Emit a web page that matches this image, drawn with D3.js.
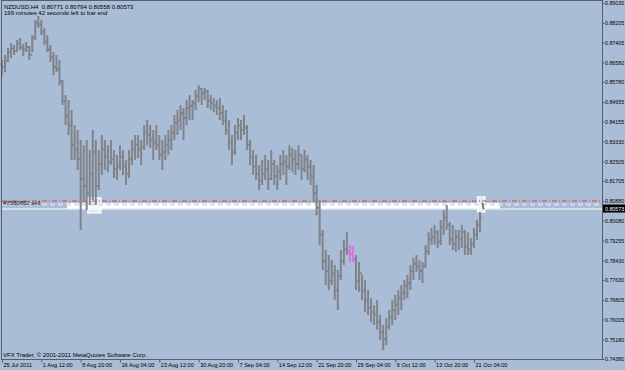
<!DOCTYPE html>
<html>
<head>
<meta charset="utf-8">
<script src="https://cdn.jsdelivr.net/npm/d3@7"></script>
<style>
  html, body { margin: 0; padding: 0; background: #aabdd6; }
  svg { display: block; }
  text { font-family: "Liberation Sans", Arial, sans-serif; }
</style>
</head>
<body>
<div id="chart"></div>
<script>
// NZDUSD H4, one entry per ~10 hours
let highs = [
  .8668,.8689,.8718,.8738,.8730,.8751,.8759,.8734,.8743,.8726,
  .8771,.8833,.8849,.8833,.8800,.8771,.8730,.8701,.8689,.8668,
  .8586,.8524,.8504,.8463,.8401,.8380,.8339,.8318,.8339,.8298,
  .8380,.8339,.8298,.8360,.8339,.8318,.8339,.8298,.8277,.8318,
  .8298,.8257,.8298,.8339,.8360,.8360,.8339,.8401,.8422,.8401,
  .8380,.8401,.8360,.8339,.8360,.8380,.8401,.8442,.8463,.8483,
  .8471,.8504,.8524,.8504,.8545,.8565,.8553,.8553,.8545,.8524,
  .8512,.8504,.8512,.8483,.8463,.8422,.8360,.8401,.8430,.8422,
  .8442,.8401,.8339,.8298,.8277,.8236,.8257,.8277,.8257,.8298,
  .8257,.8236,.8277,.8298,.8277,.8318,.8306,.8298,.8318,.8277,
  .8298,.8277,.8257,.8236,.8154,.8092,.7969,.7887,.7866,.7845,
  .7825,.7804,.7887,.7928,.7960,.7907,.7903,.7866,.7837,.7784,
  .7763,.7722,.7689,.7660,.7681,.7619,.7578,.7606,.7640,.7681,
  .7701,.7722,.7743,.7763,.7784,.7825,.7854,.7866,.7845,.7837,
  .7907,.7960,.7977,.7989,.7969,.8010,.8051,.8072,.8001,.7989,
  .7969,.7969,.7989,.7969,.7960,.7936,.7977,.8010,.8043,.80794
];
let lows = [
  .8606,.8619,.8660,.8677,.8689,.8701,.8710,.8685,.8701,.8668,
  .8701,.8751,.8800,.8771,.8730,.8701,.8660,.8606,.8619,.8565,
  .8483,.8401,.8360,.8257,.8257,.8216,.7969,.8092,.8051,.8072,
  .8092,.8072,.8133,.8195,.8216,.8207,.8236,.8183,.8175,.8216,
  .8195,.8154,.8183,.8236,.8257,.8265,.8236,.8298,.8318,.8306,
  .8257,.8298,.8257,.8216,.8257,.8277,.8298,.8339,.8360,.8380,
  .8339,.8401,.8422,.8422,.8463,.8495,.8483,.8504,.8471,.8463,
  .8454,.8442,.8422,.8401,.8360,.8298,.8236,.8277,.8339,.8339,
  .8360,.8298,.8236,.8195,.8175,.8133,.8154,.8175,.8133,.8175,
  .8154,.8133,.8175,.8195,.8154,.8216,.8207,.8195,.8216,.8175,
  .8207,.8175,.8154,.8092,.8030,.7907,.7804,.7743,.7722,.7743,
  .7681,.7640,.7763,.7825,.7866,.7837,.7837,.7722,.7714,.7681,
  .7631,.7619,.7590,.7578,.7558,.7516,.7475,.7496,.7558,.7578,
  .7599,.7619,.7640,.7681,.7689,.7722,.7763,.7796,.7763,.7751,
  .7813,.7866,.7907,.7907,.7895,.7907,.7948,.7969,.7907,.7887,
  .7878,.7887,.7895,.7866,.7866,.7866,.7895,.7928,.7960,.80558
];
let closes = [
  .8640,.8665,.8700,.8715,.8705,.8735,.8720,.8712,.8722,.8690,
  .8760,.8820,.8815,.8785,.8745,.8712,.8680,.8640,.8630,.8580,
  .8500,.8440,.8400,.8320,.8300,.8260,.8180,.8150,.8120,.8200,
  .8290,.8150,.8240,.8300,.8270,.8250,.8260,.8220,.8230,.8270,
  .8230,.8200,.8260,.8300,.8320,.8300,.8310,.8370,.8360,.8340,
  .8330,.8320,.8280,.8290,.8320,.8340,.8370,.8410,.8420,.8450,
  .8430,.8470,.8480,.8490,.8520,.8550,.8530,.8540,.8500,.8490,
  .8480,.8470,.8450,.8420,.8380,.8330,.8290,.8370,.8400,.8380,
  .8390,.8320,.8270,.8230,.8200,.8170,.8200,.8220,.8180,.8240,
  .8190,.8210,.8240,.8250,.8230,.8280,.8260,.8240,.8280,.8220,
  .8260,.8230,.8190,.8120,.8060,.7950,.7840,.7800,.7760,.7790,
  .7720,.7780,.7840,.7890,.7880,.7870,.7850,.7760,.7790,.7720,
  .7680,.7650,.7630,.7620,.7590,.7550,.7520,.7570,.7610,.7640,
  .7660,.7690,.7710,.7740,.7750,.7800,.7830,.7820,.7800,.7820,
  .7880,.7930,.7940,.7960,.7920,.7980,.8020,.7990,.7930,.7910,
  .7940,.7930,.7960,.7900,.7890,.7910,.7950,.7990,.8020,.80573
];
let firstOpen = 0.8650,
    lastOpen = 0.80771;
let pinkBars = [115, 116];

let dateTicks = [0, 13, 26, 39, 52, 65, 78, 91, 104, 117, 130, 143, 156];
let dateLabels = ["25 Jul 2011", "1 Aug 12:00", "8 Aug 20:00", "16 Aug 04:00", "23 Aug 12:00",
  "30 Aug 20:00", "7 Sep 04:00", "14 Sep 12:00", "21 Sep 20:00", "29 Sep 04:00",
  "6 Oct 12:00", "13 Oct 20:00", "21 Oct 04:00"];
let priceTicks = [0.89030, 0.88205, 0.87405, 0.86580, 0.85780, 0.84955, 0.84155, 0.83330,
  0.82505, 0.81705, 0.80880, 0.80080, 0.79255, 0.78430, 0.77630, 0.76805, 0.76005,
  0.75180, 0.74380];

// objects on the chart
let orderPrice = 0.8088,
    orderLabel = "#7580862 sell",
    dashPrice = 0.8074;
let band = [21.5, 164.6, 0.8057, 0.8080];        // from bar, to bar, low, high
let boxes = [[28.4, 32.7, 0.8039, 0.8101], [157.2, 159.6, 0.8043, 0.8105]];

(function() {
    let w = 625,
        h = 370,
        left = 2,
        right = 602,
        top = 1,
        bottom = 359;

    let bars = closes.map(function(c, i) {
        let o = i === 0 ? firstOpen : closes[i - 1];
        if (i === closes.length - 1) o = lastOpen;
        return {i: i, o: o, h: highs[i], l: lows[i], c: c};
    });
    let bid = closes[closes.length - 1];
    let f = d3.format(".5f");

    let svg = d3.select("#chart")
        .append("svg")
        .attr("width", w)
        .attr("height", h);

    svg.append("rect")
        .attr("width", w).attr("height", h)
        .attr("fill", "#aabdd6");

    let x = d3.scaleLinear().domain([0, 198]).range([left, right - 1]);
    let y = d3.scaleLinear().domain([0.74380, 0.89030]).range([bottom, 3]);

    // white rectangle object + boxes
    svg.append("rect")
        .attr("x", x(band[0])).attr("width", x(band[1]) - x(band[0]))
        .attr("y", y(band[3])).attr("height", y(band[2]) - y(band[3]))
        .attr("fill", "#ffffff");

    svg.append("g").selectAll("rect").data(boxes).enter().append("rect")
        .attr("x", d => x(d[0])).attr("width", d => x(d[1]) - x(d[0]))
        .attr("y", d => y(d[3])).attr("height", d => y(d[2]) - y(d[3]))
        .attr("fill", "#f2f5fa").attr("fill-opacity", 0.75)
        .attr("stroke", "#ffffff").attr("stroke-width", 1.2);

    // price lines
    svg.append("line")
        .attr("x1", left).attr("x2", right)
        .attr("y1", y(dashPrice)).attr("y2", y(dashPrice))
        .attr("stroke", "#d3dcea").attr("stroke-width", 2)
        .attr("stroke-dasharray", "5,3");
    svg.append("line")
        .attr("x1", left).attr("x2", right)
        .attr("y1", y(orderPrice)).attr("y2", y(orderPrice))
        .attr("stroke", "#dc3c44").attr("stroke-width", 1)
        .attr("stroke-dasharray", "5,2,1,2");
    svg.append("line")
        .attr("x1", left).attr("x2", right)
        .attr("y1", y(bid) + 0.5).attr("y2", y(bid) + 0.5)
        .attr("stroke", "#ffffff").attr("stroke-width", 1);
    svg.append("text")
        .attr("x", 3).attr("y", y(orderPrice) + 3.5)
        .attr("font-size", 6).attr("fill", "#1a1a1a")
        .text(orderLabel);

    // OHLC bars
    svg.append("g").selectAll("path").data(bars).enter().append("path")
        .attr("d", function(d) {
            let cx = x(d.i);
            return "M" + cx + "," + y(d.h) + "V" + y(d.l) +
                "M" + (cx - 1.6) + "," + y(d.o) + "H" + cx +
                "M" + cx + "," + y(d.c) + "H" + (cx + 1.6);
        })
        .attr("fill", "none")
        .attr("stroke", d => pinkBars.indexOf(d.i) >= 0 ? "#e070e0" : "#80838a")
        .attr("stroke-width", 2);

    // frame
    svg.append("rect")
        .attr("x", left - 0.5).attr("y", top - 0.5)
        .attr("width", right - left + 1).attr("height", bottom - top + 1)
        .attr("fill", "none").attr("stroke", "#555e6c").attr("stroke-width", 1);

    // price axis
    let yAxis = svg.append("g")
        .attr("transform", "translate(" + (right + 0.5) + ",0)")
        .call(d3.axisRight(y).tickValues(priceTicks).tickFormat(f).tickSize(2).tickPadding(0.5));
    yAxis.select(".domain").remove();
    yAxis.selectAll("line").attr("stroke", "#555e6c");
    yAxis.selectAll("text").attr("font-size", 5.3).attr("fill", "#000")
        .attr("font-family", "Liberation Sans, Arial, sans-serif");

    // current bid label
    svg.append("rect")
        .attr("x", right + 1).attr("y", y(bid) - 4)
        .attr("width", 23).attr("height", 8)
        .attr("fill", "#000");
    svg.append("text")
        .attr("x", right + 3).attr("y", y(bid) + 2)
        .attr("font-size", 5.3).attr("fill", "#fff")
        .text(f(bid));

    // time axis
    let xAxis = svg.append("g")
        .attr("transform", "translate(0," + (bottom + 0.5) + ")")
        .call(d3.axisBottom(x).tickValues(dateTicks)
            .tickFormat((d, i) => dateLabels[i]).tickSize(3).tickPadding(1));
    xAxis.select(".domain").remove();
    xAxis.selectAll("line").attr("stroke", "#555e6c");
    xAxis.selectAll("text")
        .attr("text-anchor", "start").attr("x", 1).attr("dy", "0.55em")
        .attr("font-size", 5.6).attr("fill", "#000")
        .attr("font-family", "Liberation Sans, Arial, sans-serif");

    // header and footer
    svg.append("text")
        .attr("x", 4).attr("y", 8.5).attr("font-size", 6).attr("fill", "#000")
        .attr("xml:space", "preserve")
        .text("NZDUSD,H4  " + f(lastOpen) + " " + f(highs[highs.length - 1]) + " " +
            f(lows[lows.length - 1]) + " " + f(bid));
    svg.append("text")
        .attr("x", 4).attr("y", 15).attr("font-size", 6).attr("fill", "#000")
        .text("199 minutes 42 seconds left to bar end");
    svg.append("text")
        .attr("x", 3).attr("y", 356.5).attr("font-size", 6).attr("fill", "#000")
        .text("VFX Trader, \u00a9 2001-2011 MetaQuotes Software Corp.");
})();
</script>
</body>
</html>
